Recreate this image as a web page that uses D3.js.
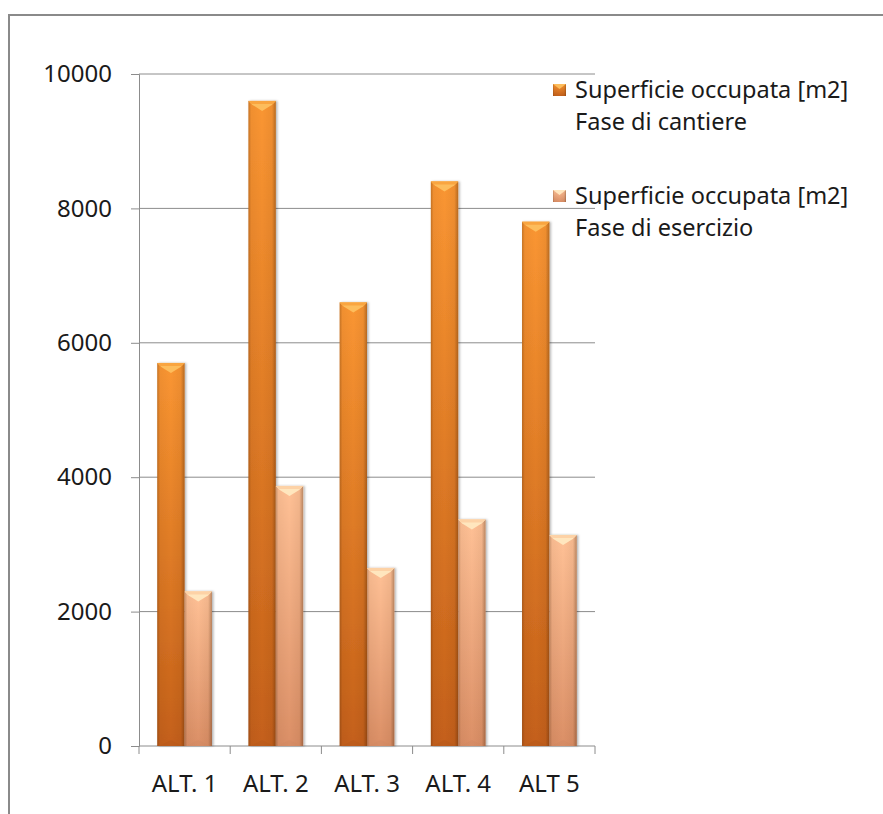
<!DOCTYPE html>
<html>
<head>
<meta charset="utf-8">
<script src="https://cdn.jsdelivr.net/npm/d3@7/dist/d3.min.js"></script>
<style>
  html, body { margin: 0; padding: 0; background: #fff; }
  svg { display: block; }
  text { font-family: "Noto Sans", "Open Sans", sans-serif; fill: #1a1a1a; }
</style>
</head>
<body>
<svg id="chart" width="883" height="814"></svg>
<script>
// Occupied surface per alternative (m2)
const categories = ["ALT. 1", "ALT. 2", "ALT. 3", "ALT. 4", "ALT 5"];
const cantiere   = [5700, 9600, 6600, 8400, 7800];   // construction phase
const esercizio  = [2300, 3870, 2650, 3370, 3140];   // operating phase
const seriesNames = [
  ["Superficie occupata [m2]", "Fase di cantiere"],
  ["Superficie occupata [m2]", "Fase di esercizio"]
];
const yTicks = [0, 2000, 4000, 6000, 8000, 10000];

const svg = d3.select("#chart");
const margin = { left: 139, right: 288, top: 74, bottom: 68 };
const W = 883, H = 814;
const innerW = W - margin.left - margin.right;
const innerH = H - margin.top - margin.bottom;

// chart frame (top and left edges visible)
svg.append("path")
  .attr("d", `M9,${H} L9,15 L${W},15`)
  .attr("fill", "none").attr("stroke", "#8a8a8a").attr("stroke-width", 2);

const defs = svg.append("defs");
const palettes = [
  { top: "#FA9632", bottom: "#C4601A", cap: "#FDBD5C", capEdge: "#F9A540", base: "#B2561A" },
  { top: "#FFC196", bottom: "#DB8F66", cap: "#FFE6BE", capEdge: "#FDD2A6", base: "#CF8660" }
];
palettes.forEach((p, i) => {
  const g = defs.append("linearGradient").attr("id", "fill" + i)
    .attr("x1", 0).attr("y1", 0).attr("x2", 0).attr("y2", 1);
  g.append("stop").attr("offset", 0).attr("stop-color", p.top);
  g.append("stop").attr("offset", 1).attr("stop-color", p.bottom);
});
// side shading shared by all bars
const side = defs.append("linearGradient").attr("id", "side")
  .attr("x1", 0).attr("y1", 0).attr("x2", 1).attr("y2", 0);
[[0, 0.28], [0.1, 0.05], [0.5, 0], [0.86, 0.06], [1, 0.35]].forEach(([o, a]) =>
  side.append("stop").attr("offset", o).attr("stop-color", "#3a1a00").attr("stop-opacity", a));

const shadow = defs.append("filter").attr("id", "shadow")
  .attr("x", "-20%").attr("y", "-5%").attr("width", "150%").attr("height", "110%");
shadow.append("feDropShadow").attr("dx", 1.5).attr("dy", 0).attr("stdDeviation", 1.2)
  .attr("flood-color", "#000").attr("flood-opacity", 0.3);

const g = svg.append("g").attr("transform", `translate(${margin.left},${margin.top})`);

const x0 = d3.scaleBand().domain(categories).range([0, innerW]).paddingInner(0.4).paddingOuter(0.2);
const x1 = d3.scaleBand().domain([0, 1]).range([0, x0.bandwidth()]);
const y = d3.scaleLinear().domain([0, 10000]).range([innerH, 0]);
// axis band used for category ticks (no padding)
const xAxisScale = d3.scaleBand().domain(categories).range([0, innerW]);

// gridlines
g.append("g").selectAll("line").data(yTicks.filter(t => t > 0)).join("line")
  .attr("x1", 0).attr("x2", innerW)
  .attr("y1", d => y(d)).attr("y2", d => y(d))
  .attr("stroke", "#8c8c8c").attr("stroke-width", 1);

// y axis
const yAxis = g.append("g").call(d3.axisLeft(y).tickValues(yTicks).tickSize(8).tickPadding(19).tickFormat(d3.format("d")));
yAxis.select(".domain").attr("stroke", "#8c8c8c");
yAxis.selectAll(".tick line").attr("stroke", "#8c8c8c");
yAxis.selectAll("text").attr("font-size", 24).style("font-family", '"Noto Sans", sans-serif').attr("fill", "#1a1a1a");

// x axis with ticks on band boundaries
const xa = g.append("g").attr("transform", `translate(0,${innerH})`);
xa.append("line").attr("x1", 0).attr("x2", innerW).attr("stroke", "#8c8c8c");
const bounds = categories.map(c => xAxisScale(c)).concat([innerW]);
xa.selectAll("line.tk").data(bounds).join("line").attr("class", "tk")
  .attr("x1", d => d).attr("x2", d => d).attr("y1", 0).attr("y2", 8)
  .attr("stroke", "#8c8c8c");
xa.selectAll("text").data(categories).join("text")
  .attr("x", d => xAxisScale(d) + xAxisScale.bandwidth() / 2)
  .attr("y", 46)
  .attr("text-anchor", "middle")
  .attr("font-size", 24)
  .text(d => d);

// bars
const series = [cantiere, esercizio];
const rows = [];
categories.forEach((c, ci) => series.forEach((s, si) => rows.push({ c, si, v: s[ci] })));

const bar = g.append("g").selectAll("g").data(rows).join("g");
bar.each(function(d) {
  const sel = d3.select(this);
  const p = palettes[d.si];
  const bx = x0(d.c) + x1(d.si);
  const bw = x1.bandwidth();
  const top = y(d.v), bot = y(0);
  const cap = Math.min(10, (bot - top) / 2);
  sel.append("rect").attr("x", bx).attr("y", top).attr("width", bw).attr("height", bot - top)
    .attr("fill", `url(#fill${d.si})`).attr("filter", "url(#shadow)");
  sel.append("rect").attr("x", bx).attr("y", top).attr("width", bw).attr("height", bot - top)
    .attr("fill", "url(#side)");
  // bevelled top
  sel.append("path")
    .attr("d", `M${bx},${top} L${bx + bw},${top} L${bx + bw - 4},${top + 4} L${bx + bw / 2},${top + cap} L${bx + 4},${top + 4} Z`)
    .attr("fill", p.cap);
  sel.append("path")
    .attr("d", `M${bx},${top} L${bx + bw},${top} L${bx + bw - 3},${top + 3} L${bx + 3},${top + 3} Z`)
    .attr("fill", p.capEdge);
  // subtle bevelled base
  sel.append("path")
    .attr("d", `M${bx + 2},${bot} L${bx + bw - 2},${bot} L${bx + bw / 2},${bot - 6} Z`)
    .attr("fill", p.base).attr("opacity", 0.35);
});

// legend
const legend = svg.append("g").attr("transform", "translate(553,84)");
seriesNames.forEach((lines, i) => {
  const lg = legend.append("g").attr("transform", `translate(0,${i * 106})`);
  const p = palettes[i];
  lg.append("rect").attr("width", 13).attr("height", 12).attr("fill", `url(#fill${i})`);
  lg.append("rect").attr("width", 13).attr("height", 12).attr("fill", "url(#side)");
  lg.append("path").attr("d", "M0,0 L13,0 L6.5,5 Z").attr("fill", p.cap);
  lines.forEach((t, li) => lg.append("text")
    .attr("x", 22).attr("y", 14 + li * 32)
    .attr("font-size", 23.5).text(t));
});
</script>
</body>
</html>
